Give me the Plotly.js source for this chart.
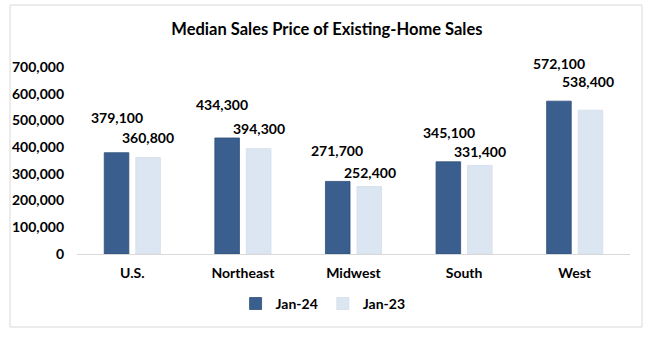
<!DOCTYPE html>
<html>
<head>
<meta charset="utf-8">
<script src="https://cdn.plot.ly/plotly-3.0.1.min.js"></script>
<style>
  html, body { margin: 0; padding: 0; background: #ffffff; }
  #chart { width: 650px; height: 337px; }
</style>
</head>
<body>
<div id="chart"></div>
<script>
// ---- data ----
const regions = ["U.S.", "Northeast", "Midwest", "South", "West"];
const jan24 = [379100, 434300, 271700, 345100, 572100];
const jan23 = [360800, 394300, 252400, 331400, 538400];
const seriesNames = ["Jan-24", "Jan-23"];
const chartTitle = "Median Sales Price of Existing-Home Sales";

// ---- styling ----
const FONT = "Lato, 'Open Sans', Arial, sans-serif";
const DARK = "#3A5F8F";
const LIGHT = "#DCE6F2";
// label lift above each bar top (px), as placed in the reference
const liftDark = [35, 33, 31, 29, 38];
const liftLight = [20, 20, 14, 14, 29];
const nudgeDark = [1, -5, -1, 1, 0];
const nudgeLight = [0, 0, 0, 0, -3];

const fmt = v => v.toLocaleString("en-US");

const traces = [
  { type: "bar", name: seriesNames[0], x: regions, y: jan24,
    marker: { color: DARK, line: { color: "#2E4E78", width: 0.8 } }, hoverinfo: "none" },
  { type: "bar", name: seriesNames[1], x: regions, y: jan23,
    marker: { color: LIGHT, line: { color: "#D2DDEB", width: 0.8 } }, hoverinfo: "none" }
];

const annotations = [];
regions.forEach((r, i) => {
  annotations.push({ x: r, y: jan24[i], xref: "x", yref: "y", text: fmt(jan24[i]),
    showarrow: false, xshift: -16 + nudgeDark[i], yshift: liftDark[i], yanchor: "middle",
    font: { family: FONT, size: 14, color: "#000", weight: "bold" } });
  annotations.push({ x: r, y: jan23[i], xref: "x", yref: "y", text: fmt(jan23[i]),
    showarrow: false, xshift: 16 + nudgeLight[i], yshift: liftLight[i], yanchor: "middle",
    font: { family: FONT, size: 14, color: "#000", weight: "bold" } });
});

const layout = {
  width: 650, height: 337,
  margin: { l: 77, r: 20, t: 67, b: 83, pad: 0 },
  paper_bgcolor: "#ffffff", plot_bgcolor: "#ffffff",
  font: { family: FONT, color: "#000" },
  title: { text: chartTitle, x: 0.503, xref: "container", y: 0.914, yref: "container",
    xanchor: "center", yanchor: "middle",
    font: { family: FONT, size: 16.5, color: "#000", weight: "bold" } },
  barmode: "group", bargap: 0.43, bargroupgap: 0.22,
  showlegend: true,
  legend: { orientation: "h", x: 0.445, xanchor: "center", y: -0.267, yanchor: "middle",
    font: { family: FONT, size: 14, color: "#000", weight: "bold" },
    itemwidth: 30, traceorder: "normal", bgcolor: "rgba(0,0,0,0)" },
  xaxis: { type: "category", showgrid: false, zeroline: false, showline: true,
    linecolor: "#D9D9D9", linewidth: 1, ticks: "", ticklabelstandoff: 6,
    tickfont: { family: FONT, size: 14, color: "#000", weight: "bold" }, fixedrange: true },
  yaxis: { range: [0, 700000], dtick: 100000, tick0: 0, tickformat: ",d",
    showgrid: false, zeroline: false, showline: false, ticks: "", ticklabelstandoff: 12,
    tickfont: { family: FONT, size: 14, color: "#000", weight: "bold" }, fixedrange: true },
  annotations: annotations,
  shapes: [{ type: "rect", xref: "paper", yref: "paper", layer: "below",
    x0: (10 - 77) / 553, x1: (642 - 77) / 553, y0: (254 - 327) / 187, y1: (254 - 5) / 187,
    line: { color: "#D9D9D9", width: 1 }, fillcolor: "rgba(0,0,0,0)" }]
};

Plotly.newPlot("chart", traces, layout, { displayModeBar: false, staticPlot: true });
</script>
</body>
</html>
